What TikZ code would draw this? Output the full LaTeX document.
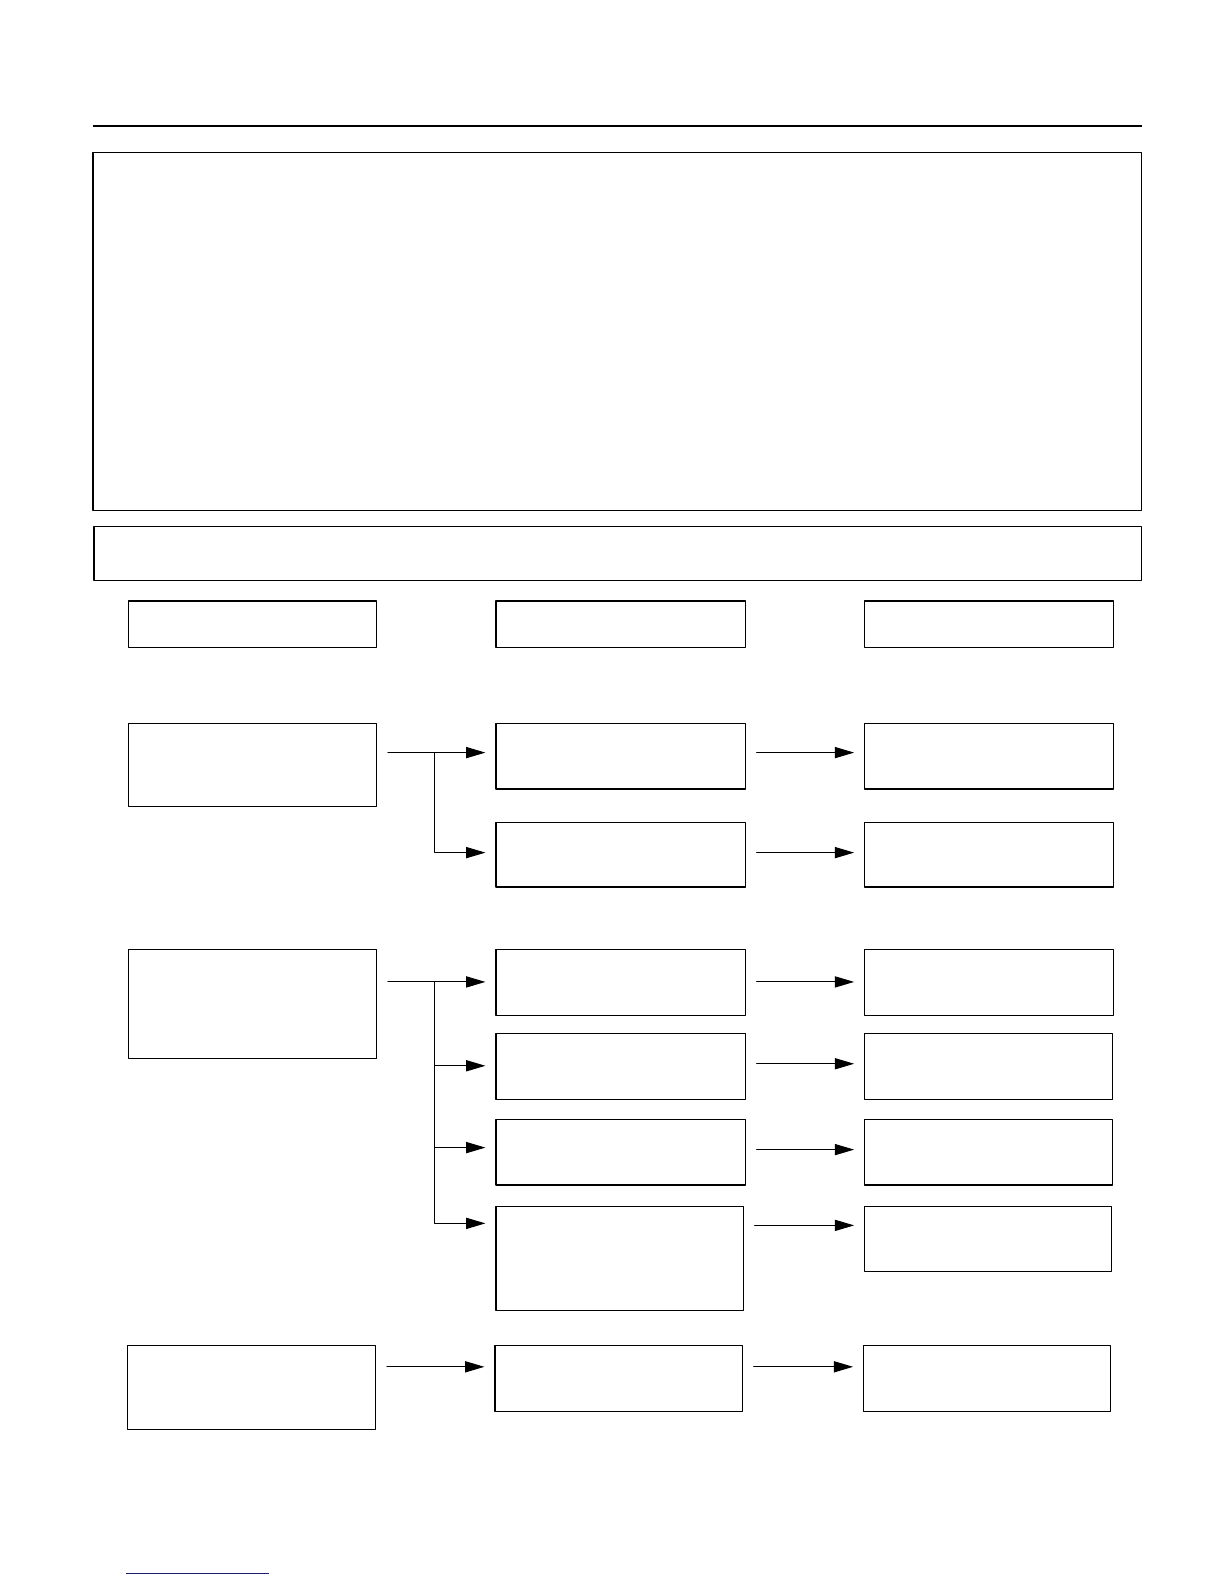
\documentclass[tikz,border=0pt]{standalone}
\usetikzlibrary{arrows.meta}
\definecolor{linkblue}{RGB}{28,28,120}
\begin{document}
\begin{tikzpicture}[line cap=round,line join=round,x=1pt,y=-1pt,
	blk/.style={draw,line width=1.2pt,inner sep=0pt,outer sep=0pt,anchor=north west},
	arr/.style={-{Triangle[length=19pt,width=11pt]},line width=1pt,shorten <=11pt,shorten >=10.5pt},
	branch/.style={arr,shorten <=0pt}]
				\useasboundingbox (0,0) rectangle (1211,1568);
				\draw [line width=2pt,line cap=butt] (92,125)-- (1130,125);
				\node[blk,minimum width=1038pt,minimum height=354pt] (intro) at (92,151) {};
				\node[blk,minimum width=1037pt,minimum height=54pt] (note) at (93,521) {};
				% column heads
				\node[blk,minimum width=246pt,minimum height=46pt] (h1) at (127,595) {};
				\node[blk,minimum width=247pt,minimum height=46pt] (h2) at (491,595) {};
				\node[blk,minimum width=246pt,minimum height=46pt] (h3) at (856,595) {};
				% first group
				\node[blk,minimum width=246pt,minimum height=82pt] (a1) at (127,716) {};
				\node[blk,minimum width=247pt,minimum height=65pt] (b1) at (491,716) {};
				\node[blk,minimum width=247pt,minimum height=64pt] (b2) at (491,814) {};
				\node[blk,minimum width=246pt,minimum height=65pt] (c1) at (856,716) {};
				\node[blk,minimum width=246pt,minimum height=64pt] (c2) at (856,814) {};
				% second group
				\node[blk,minimum width=246pt,minimum height=108pt] (a2) at (127,940) {};
				\node[blk,minimum width=247pt,minimum height=65pt] (b3) at (491,940) {};
				\node[blk,minimum width=247pt,minimum height=65pt] (b4) at (491,1023) {};
				\node[blk,minimum width=247pt,minimum height=65pt] (b5) at (491,1108) {};
				\node[blk,minimum width=245pt,minimum height=103pt] (b6) at (491,1194) {};
				\node[blk,minimum width=246pt,minimum height=65pt] (c3) at (856,940) {};
				\node[blk,minimum width=245pt,minimum height=65pt] (c4) at (856,1023) {};
				\node[blk,minimum width=245pt,minimum height=65pt] (c5) at (856,1108) {};
				\node[blk,minimum width=244pt,minimum height=65pt] (c6) at (856,1194) {};
				% third group
				\node[blk,minimum width=246pt,minimum height=83pt] (a3) at (126,1332) {};
				\node[blk,minimum width=245pt,minimum height=65pt] (b7) at (490,1332) {};
				\node[blk,minimum width=244pt,minimum height=65pt] (c7) at (855,1332) {};
				% arrow levels
				\coordinate (r1) at (0,745);
				\coordinate (r2) at (0,844);
				\coordinate (r3) at (0,972);
				\coordinate (r4) at (0,1055);
				\coordinate (r5) at (0,1136);
				\coordinate (r6) at (0,1211);
				\coordinate (q4) at (0,1053);
				\coordinate (q5) at (0,1138);
				\coordinate (q6) at (0,1213);
				\coordinate (r7) at (0,1353);
				\coordinate (j1) at (430,745);
				\coordinate (j2) at (430,972);
				\draw [arr] (a1.east |- r1)-- (b1.west |- r1);
				\draw [branch] (j1) |- (b2.west |- r2);
				\draw [arr] (b1.east |- r1)-- (c1.west |- r1);
				\draw [arr] (b2.east |- r2)-- (c2.west |- r2);
				\draw [arr] (a2.east |- r3)-- (b3.west |- r3);
				\draw [branch] (j2) |- (b4.west |- r4);
				\draw [branch] (j2) |- (b5.west |- r5);
				\draw [branch] (j2) |- (b6.west |- r6);
				\draw [arr] (b3.east |- r3)-- (c3.west |- r3);
				\draw [arr] (b4.east |- q4)-- (c4.west |- q4);
				\draw [arr] (b5.east |- q5)-- (c5.west |- q5);
				\draw [arr] (b6.east |- q6)-- (c6.west |- q6);
				\draw [arr] (a3.east |- r7)-- (b7.west |- r7);
				\draw [arr] (b7.east |- r7)-- (c7.west |- r7);
				\draw [line width=1pt,color=linkblue,line cap=butt] (125,1558)-- (266,1558);
			\end{tikzpicture}
\end{document}
